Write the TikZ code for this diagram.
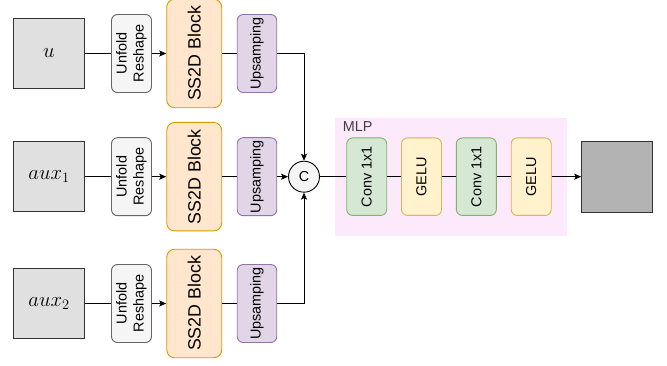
\documentclass[tikz,border=0pt]{standalone}
\usepackage{fontspec}
\setmainfont{Liberation Sans}
\usetikzlibrary{positioning, arrows.meta}

\definecolor{ingray}{HTML}{E0E0E0}
\definecolor{outgray}{HTML}{B3B3B3}
\definecolor{unffill}{HTML}{F5F5F5}
\definecolor{unfline}{HTML}{666666}
\definecolor{ssfill}{HTML}{FFE6CC}
\definecolor{ssline}{HTML}{D79B00}
\definecolor{upfill}{HTML}{E1D5E7}
\definecolor{upline}{HTML}{9673A6}
\definecolor{convfill}{HTML}{D5E8D4}
\definecolor{convline}{HTML}{82B366}
\definecolor{gelufill}{HTML}{FFF2CC}
\definecolor{geluline}{HTML}{D6B656}
\definecolor{mlpfill}{HTML}{FDE9FC}

\begin{document}
\begin{tikzpicture}[x=1pt, y=-1pt, >={Stealth[length=7, width=6, inset=1.5]}, line width=0.9pt,
    txt/.style={font=\fontsize{14.4}{17}\selectfont},
    inbox/.style={draw=black!80, fill=ingray, minimum width=70.5, minimum height=70.5, inner sep=0pt,
        font=\fontsize{20}{20}\selectfont},
    unfold/.style={txt, draw=unfline, fill=unffill, rounded corners=6, rotate=90, align=center,
        minimum width=78, minimum height=40, inner sep=0pt},
    ssblock/.style={draw=ssline, fill=ssfill, rounded corners=8, rotate=90,
        minimum width=108.5, minimum height=55, inner sep=0pt, font=\fontsize{17.8}{20}\selectfont},
    upbox/.style={txt, draw=upline, fill=upfill, rounded corners=6, rotate=90,
        minimum width=78, minimum height=39.5, inner sep=0pt},
    mlpstep/.style={txt, rounded corners=6, rotate=90, minimum width=77.5, minimum height=40, inner sep=0pt},
    conv/.style={mlpstep, draw=convline, fill=convfill},
    gelu/.style={mlpstep, draw=geluline, fill=gelufill}]

    % Canvas size of the reference
    \useasboundingbox (0,0) rectangle (667,366);

    % Row heights
    \def\ya{53.5}
    \def\yb{176.7}
    \def\yc{303.5}

    % MLP background
    \node[fill=mlpfill, minimum width=231.7, minimum height=118, inner sep=0pt] (mlp) at (451,176.7) {};
    \node[txt, text=black!75, anchor=north west, inner sep=0pt] (mlplabel) at (342.5,121.5) {MLP};

    % First row
    \node[inbox] (u) at (49,\ya) {$u$};
    \node[unfold] (unf1) at (131.5,\ya) {Unfold\\Reshape};
    \node[ssblock] (ss1) at (194.2,\ya) {SS2D Block};
    \node[upbox] (up1) at (257,\ya) {Upsamping};

    % Second row
    \node[inbox] (aux1) at (49,\yb) {$aux_1$};
    \node[unfold] (unf2) at (131.5,\yb) {Unfold\\Reshape};
    \node[ssblock] (ss2) at (194.2,\yb) {SS2D Block};
    \node[upbox] (up2) at (257,\yb) {Upsamping};

    % Third row
    \node[inbox] (aux2) at (49,\yc) {$aux_2$};
    \node[unfold] (unf3) at (131.5,\yc) {Unfold\\Reshape};
    \node[ssblock] (ss3) at (194.2,\yc) {SS2D Block};
    \node[upbox] (up3) at (257,\yc) {Upsamping};

    % Concatenation
    \node[txt, circle, draw, fill=unffill, minimum size=31, inner sep=0pt] (cat) at (304,\yb) {C};

    % MLP blocks
    \node[conv] (conv1) at (366.7,\yb) {Conv 1x1};
    \node[gelu] (gelu1) at (421.5,\yb) {GELU};
    \node[conv] (conv2) at (476.3,\yb) {Conv 1x1};
    \node[gelu] (gelu2) at (531.2,\yb) {GELU};

    % Output
    \node[draw=black!80, fill=outgray, minimum width=71, minimum height=70.7, inner sep=0pt] (out) at (617.2,\yb) {};

    % Connections
    \draw (u) -- (unf1);
    \draw[->] (unf1) -- (ss1);
    \draw (ss1) -- (up1);
    \draw[->] (up1) -| (cat);

    \draw (aux1) -- (unf2);
    \draw[->] (unf2) -- (ss2);
    \draw (ss2) -- (up2);
    \draw[->] (up2) -- (cat);

    \draw (aux2) -- (unf3);
    \draw[->] (unf3) -- (ss3);
    \draw (ss3) -- (up3);
    \draw[->] (up3) -| (cat);

    \draw (cat) -- (conv1);
    \draw (conv1) -- (gelu1);
    \draw (gelu1) -- (conv2);
    \draw (conv2) -- (gelu2);
    \draw[->] (gelu2) -- (out);

\end{tikzpicture}
\end{document}
